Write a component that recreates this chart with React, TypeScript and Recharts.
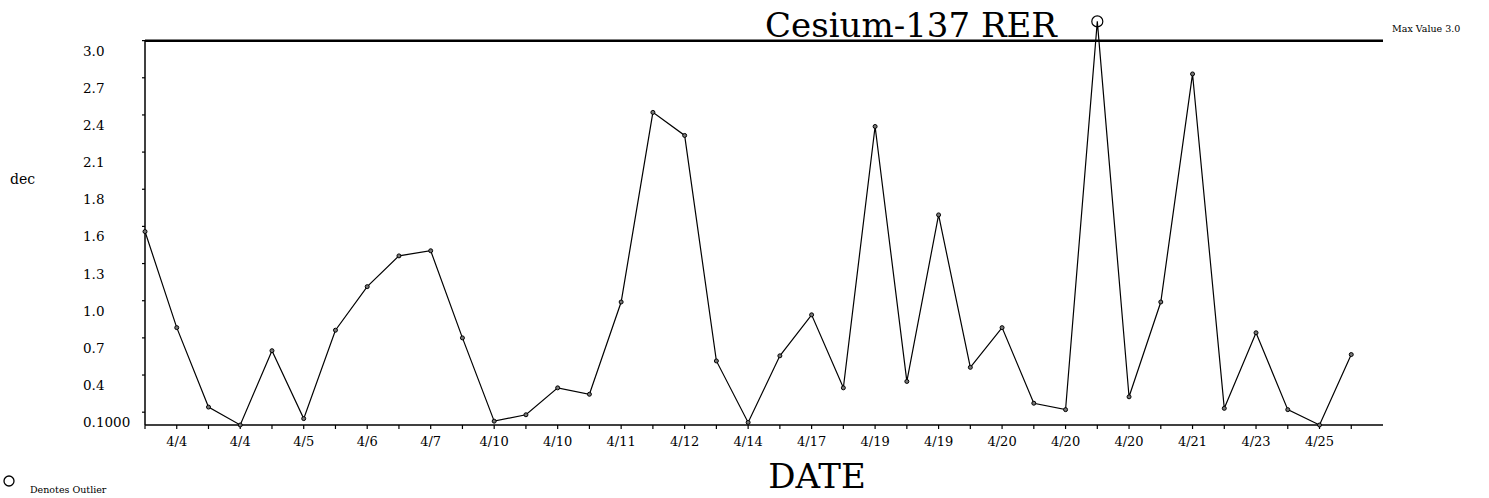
import React from 'react';
import { LineChart, Line, XAxis, YAxis, ReferenceLine } from 'recharts';

// one value per sample, left to right
const values = [
  1.51, 0.76, 0.14, 0.0, 0.58, 0.05, 0.74, 1.08, 1.32, 1.36,
  0.68, 0.03, 0.08, 0.29, 0.24, 0.96, 2.44, 2.26, 0.5, 0.02,
  0.54, 0.86, 0.29, 2.33, 0.34, 1.64, 0.45, 0.76, 0.17, 0.12,
  3.15, 0.22, 0.96, 2.74, 0.13, 0.72, 0.12, 0.0, 0.55,
];

// date labels sit on every other sample (odd positions)
const tickDates = [
  '4/4', '4/4', '4/5', '4/6', '4/7', '4/10', '4/10', '4/11', '4/12', '4/14',
  '4/17', '4/19', '4/19', '4/20', '4/20', '4/20', '4/21', '4/23', '4/25',
];

const yTicks = [0.1, 0.39, 0.68, 0.97, 1.26, 1.55, 1.84, 2.13, 2.42, 2.71, 3.0];
const yTickLabels = ['0.1000', '0.4', '0.7', '1.0', '1.3', '1.6', '1.8', '2.1', '2.4', '2.7', '3.0'];

const MAX_VALUE = 3.0;
const FONT = "'DejaVu Serif', serif";

const data = values.map((v, i) => ({ i, v }));
const xTicks = values.map((_, i) => i);

function XTick(props: any) {
  const { x, y, payload } = props;
  const i = payload.value as number;
  const label = i % 2 === 1 ? tickDates[(i - 1) / 2] : '';
  if (!label) return <g />;
  return (
    <text x={x} y={y} dy={15} textAnchor="middle" fontSize={13} fontFamily={FONT} fill="#000">
      {label}
    </text>
  );
}

function YTick(props: any) {
  const { x, y, payload } = props;
  const idx = yTicks.indexOf(payload.value);
  return (
    <text x={x - 57} y={y} dy={15} textAnchor="start" fontSize={13.5} fontFamily={FONT} fill="#000">
      {idx >= 0 ? yTickLabels[idx] : ''}
    </text>
  );
}

function Dot(props: any) {
  const { cx, cy, index, value } = props;
  if (value > MAX_VALUE) {
    return <circle key={`d-${index}`} cx={cx} cy={cy} r={5.5} fill="none" stroke="#000" strokeWidth={1.2} />;
  }
  return <circle key={`d-${index}`} cx={cx} cy={cy} r={2} fill="#777" stroke="#000" strokeWidth={1} />;
}

export default function App() {
  return (
    <div style={{ position: 'absolute', left: 0, top: 0, width: 1489, height: 498, background: '#fff' }}>
      <LineChart
        width={1489}
        height={498}
        data={data}
        margin={{ top: 15, right: 106, bottom: 43, left: 85 }}
      >
        <XAxis
          type="number"
          dataKey="i"
          domain={[0, 39]}
          ticks={xTicks}
          interval={0}
          height={30}
          tick={<XTick />}
          tickSize={4}
          axisLine={{ stroke: '#000', strokeWidth: 1.5 }}
          tickLine={{ stroke: '#000', strokeWidth: 1.2 }}
        />
        <YAxis
          type="number"
          domain={[0, 3.2]}
          ticks={yTicks}
          interval={0}
          width={60}
          tick={<YTick />}
          tickSize={3}
          axisLine={false}
          tickLine={{ stroke: '#000', strokeWidth: 1.2 }}
        />
        <ReferenceLine
          segment={[{ x: 0, y: 0 }, { x: 0, y: MAX_VALUE }]}
          stroke="#000"
          strokeWidth={1.5}
        />
        <ReferenceLine
          y={MAX_VALUE}
          stroke="#000"
          strokeWidth={2.5}
          label={(p: any) => {
            const vb = p.viewBox || {};
            return (
              <text
                x={(vb.x ?? 0) + (vb.width ?? 0) + 9}
                y={(vb.y ?? 0) - 9}
                fontSize={9.5}
                fontFamily={FONT}
                fill="#000"
              >
                Max Value 3.0
              </text>
            );
          }}
        />
        <Line
          type="linear"
          dataKey="v"
          stroke="#000"
          strokeWidth={1.2}
          dot={Dot}
          activeDot={false}
          isAnimationActive={false}
        />
      </LineChart>
      <svg
        width={1489}
        height={498}
        style={{ position: 'absolute', left: 0, top: 0, pointerEvents: 'none' }}
      >
        <text x={911} y={37} textAnchor="middle" fontSize={34} fontFamily={FONT} fill="#000">
          Cesium-137 RER
        </text>
        <text x={817} y={488} textAnchor="middle" fontSize={34} fontFamily={FONT} fill="#000">
          DATE
        </text>
        <text x={10} y={184} fontSize={14} fontFamily={FONT} fill="#000">
          dec
        </text>
        <circle cx={9} cy={481} r={5} fill="none" stroke="#000" strokeWidth={1.3} />
        <text x={30} y={493} fontSize={9.5} fontFamily={FONT} fill="#000">
          Denotes Outlier
        </text>
      </svg>
    </div>
  );
}
